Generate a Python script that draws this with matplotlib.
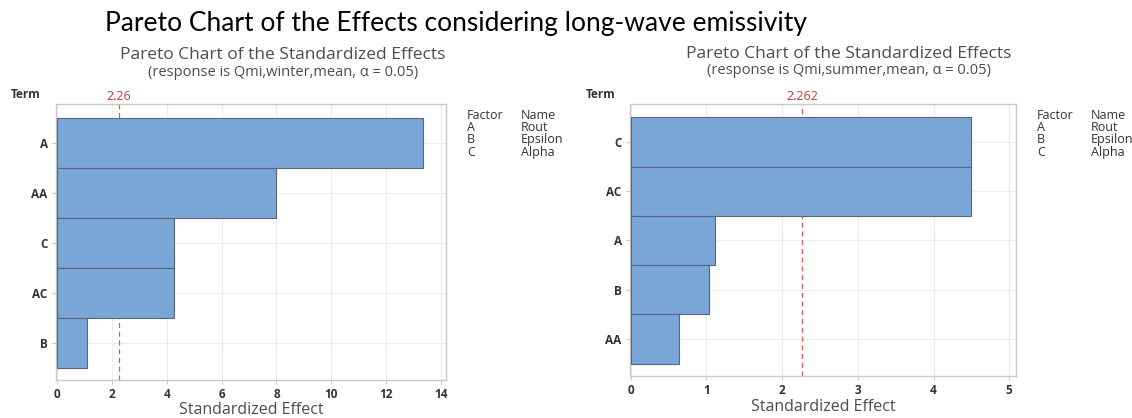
import matplotlib
matplotlib.use('Agg')
import matplotlib.pyplot as plt

# ── data ────────────────────────────────────────────
winter_terms = ['A', 'AA', 'C', 'AC', 'B']
winter_effects = [13.35, 7.99, 4.27, 4.25, 1.11]
winter_crit = 2.26
winter_label = '2.26'

summer_terms = ['C', 'AC', 'A', 'B', 'AA']
summer_effects = [4.50, 4.49, 1.11, 1.03, 0.64]
summer_crit = 2.262
summer_label = '2.262'

factor_codes = ['A', 'B', 'C']
factor_names = ['Rout', 'Epsilon', 'Alpha']

W, H = 1132, 418
BAR = '#7ba6d8'
BAR_EDGE = '#58667a'
GRID = '#ececec'
SPINE = '#c9c9c9'
RED = '#e5555a'
TXT = '#333333'
TITLE_C = '#4d4d4d'
FONT = 'Open Sans'

fig = plt.figure(figsize=(W / 100, H / 100), dpi=100)
fig.patch.set_facecolor('white')


def fx(px):
    return px / W


def fy(py):
    return 1 - py / H


def pareto(box, terms, effects, crit, crit_lbl, xlim, ticks):
    ax = fig.add_axes(box)
    y = list(range(len(terms)))
    ax.barh(y, effects, height=1.0, color=BAR, edgecolor=BAR_EDGE, linewidth=0.8, zorder=3)
    ax.axvline(crit, color=RED, lw=0.9, ls=(0, (4, 3)), zorder=2)
    ax.set_xlim(*xlim)
    ax.set_ylim(len(terms) - 0.25, -0.77)
    ax.set_yticks(y)
    ax.set_yticklabels(terms)
    ax.set_xticks(ticks)
    ax.set_xticklabels([str(t) for t in ticks])
    ax.grid(True, color=GRID, lw=0.8, zorder=0)
    ax.set_axisbelow(True)
    for s in ax.spines.values():
        s.set_color(SPINE)
        s.set_linewidth(1.0)
    ax.tick_params(axis='both', length=3, width=0.8, color=SPINE, labelcolor=TXT, labelsize=8.5, pad=3)
    for lab in ax.get_xticklabels() + ax.get_yticklabels():
        lab.set_fontfamily(FONT)
        lab.set_fontweight('bold')
    ax.text(crit, 1.003, crit_lbl, transform=ax.get_xaxis_transform(), ha='center', va='bottom',
            color='#c0393b', fontsize=9, family=FONT)
    return ax


pareto([fx(56), fy(380), fx(445.7) - fx(56), fy(104.3) - fy(380)],
       winter_terms, winter_effects, winter_crit, winter_label, (-0.036, 14.17), range(0, 15, 2))
pareto([fx(630), fy(376), fx(1015.7) - fx(630), fy(104) - fy(376)],
       summer_terms, summer_effects, summer_crit, summer_label, (-0.01, 5.086), range(0, 6))

# main heading
fig.text(fx(105), fy(23), 'Pareto Chart of the Effects considering long-wave emissivity',
         family='Lato', fontsize=19, color='black', ha='left', va='center')

# panel titles, "Term", x labels, factor tables
for cx, ty, resp, term_x, xl_x, xl_y, leg_x in [
        (283, 55, 'winter', 26, 251, 410, 467),
        (849, 54, 'summer', 601, 823, 407, 1037)]:
    fig.text(fx(cx), fy(ty), 'Pareto Chart of the Standardized Effects', family=FONT,
             fontsize=12.5, color=TITLE_C, ha='center', va='center')
    fig.text(fx(cx), fy(ty + 17), f'(response is Qmi,{resp},mean, α = 0.05)', family=FONT,
             fontsize=10.5, color=TITLE_C, ha='center', va='center')
    fig.text(fx(term_x), fy(95), 'Term', family=FONT, fontsize=8.5, fontweight='bold',
             color=TXT, ha='center', va='center')
    fig.text(fx(xl_x), fy(xl_y), 'Standardized Effect', family=FONT, fontsize=11.5,
             color=TITLE_C, ha='center', va='center')
    rows = [('Factor', 'Name')] + list(zip(factor_codes, factor_names))
    for i, (c, n) in enumerate(rows):
        yy = fy(115.5 + i * 12.2)
        fig.text(fx(leg_x), yy, c, family=FONT, fontsize=9, color=TXT, ha='left', va='center')
        fig.text(fx(leg_x + 54), yy, n, family=FONT, fontsize=9, color=TXT, ha='left', va='center')

fig.savefig('out.png', dpi=100, facecolor='white')
